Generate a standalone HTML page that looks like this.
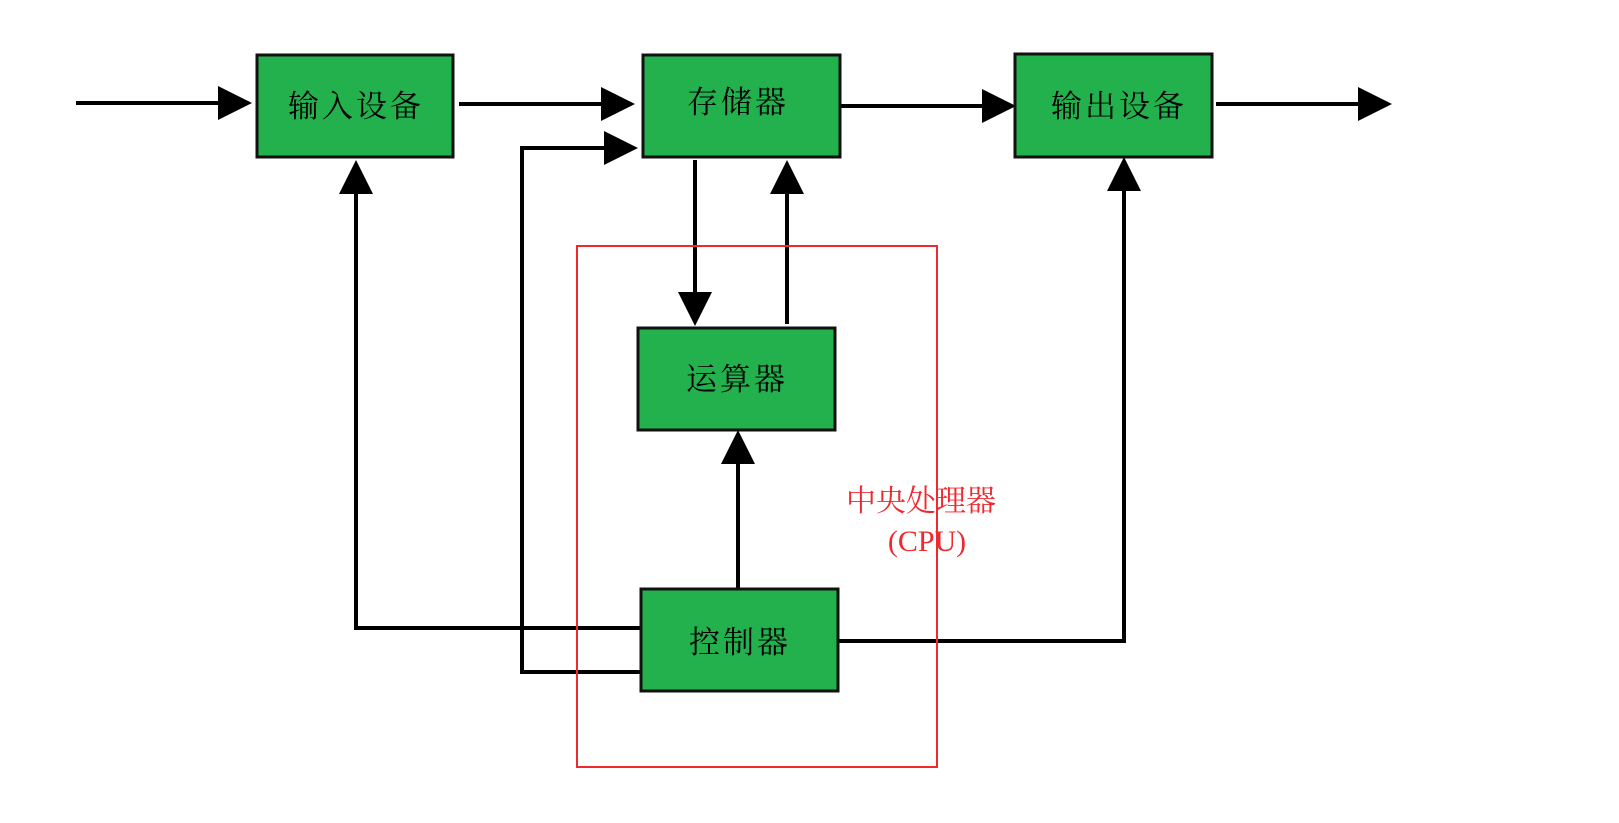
<!DOCTYPE html>
<html><head><meta charset="utf-8"><style>
html,body{margin:0;padding:0;background:#fff;}
svg{display:block}
text{font-family:"Liberation Serif","Noto Serif CJK SC","Noto Sans CJK SC",serif;}
</style></head><body>
<svg width="1619" height="823" viewBox="0 0 1619 823" xmlns="http://www.w3.org/2000/svg">
<defs>
<marker id="a" markerWidth="10" markerHeight="10" refX="9" refY="5" orient="auto" markerUnits="userSpaceOnUse" viewBox="0 0 10 10" >
</marker>
</defs>
<g stroke="#000" stroke-width="4" fill="none">
<line x1="76" y1="103" x2="222" y2="103"/>
<line x1="459" y1="104" x2="602" y2="104"/>
<polyline points="640,672 522,672 522,148 604,148"/>
<line x1="841" y1="106" x2="984" y2="106"/>
<line x1="1216" y1="104" x2="1360" y2="104"/>
<line x1="695" y1="160" x2="695" y2="296"/>
<line x1="787" y1="324" x2="787" y2="192"/>
<line x1="738" y1="590" x2="738" y2="460"/>
<polyline points="640,628 356,628 356,192"/>
<polyline points="838,641 1124,641 1124,190"/>
</g>
<g fill="#000">
<polygon points="252,103 218,86 218,120"/>
<polygon points="635,104 601,87 601,121"/>
<polygon points="638,148 604,131 604,165"/>
<polygon points="1016,106 982,89 982,123"/>
<polygon points="1392,104 1358,87 1358,121"/>
<polygon points="695,326 678,292 712,292"/>
<polygon points="787,160 770,194 804,194"/>
<polygon points="738,430 721,464 755,464"/>
<polygon points="356,160 339,194 373,194"/>
<polygon points="1124,157 1107,191 1141,191"/>
</g>
<g fill="#23b14d" stroke="#111" stroke-width="3">
<rect x="257" y="55" width="196" height="102"/>
<rect x="643" y="55" width="197" height="102"/>
<rect x="1015" y="54" width="197" height="103"/>
<rect x="638" y="328" width="197" height="102"/>
<rect x="641" y="589" width="197" height="102"/>
</g>
<rect x="577" y="246" width="360" height="521" fill="none" stroke="#ee2a2f" stroke-width="2"/>
<g font-size="31" fill="#000" text-anchor="middle" letter-spacing="3">
<text x="356" y="117">输入设备</text>
<text x="738" y="113">存储器</text>
<text x="1119" y="117">输出设备</text>
<text x="737" y="390">运算器</text>
<text x="740" y="653">控制器</text>
</g>
<g font-size="30" fill="#ee2a2f" text-anchor="middle">
<text x="921" y="511">中央处理器</text>
<text x="927" y="551">(CPU)</text>
</g>
</svg>
</body></html>
